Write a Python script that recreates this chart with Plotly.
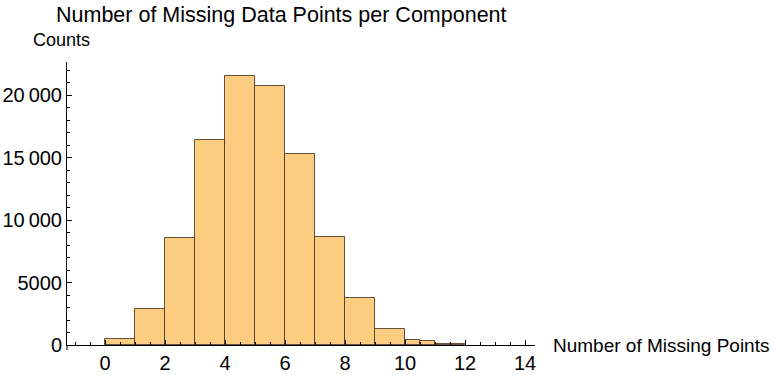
import plotly.graph_objects as go

# Histogram bins (left/right edges) and the count in each bin
bin_left = [0, 1, 2, 3, 4, 5, 6, 7, 8, 9, 10, 10.5, 11]
bin_right = [1, 2, 3, 4, 5, 6, 7, 8, 9, 10, 10.5, 11, 12]
counts = [450, 2850, 8530, 16370, 21550, 20720, 15280, 8670, 3730, 1280, 380, 360, 80]

y_tick_vals = [0, 5000, 10000, 15000, 20000]
y_tick_text = ["0", "5000", "10\u2009000", "15\u2009000", "20\u2009000"]
x_tick_vals = [0, 2, 4, 6, 8, 10, 12, 14]

centers = [(a + b) / 2 for a, b in zip(bin_left, bin_right)]
widths = [b - a for a, b in zip(bin_left, bin_right)]

W, H = 773, 375
L, R, T, B = 67, 238, 62, 30
plot_w = W - L - R
plot_h = H - T - B

FONT = "Liberation Sans, Arial, sans-serif"
TICK_SIZE = 20

fig = go.Figure(
    go.Bar(
        x=centers,
        y=counts,
        width=widths,
        marker=dict(
            color="rgb(252,205,128)",
            line=dict(color="rgba(70,55,35,0.85)", width=1),
        ),
        hoverinfo="x+y",
    )
)

fig.update_layout(
    width=W,
    height=H,
    margin=dict(l=L, r=R, t=T, b=B, autoexpand=False),
    paper_bgcolor="white",
    plot_bgcolor="white",
    bargap=0,
    showlegend=False,
    font=dict(family=FONT, size=18, color="black"),
    title=dict(
        text="Number of Missing Data Points per Component",
        font=dict(family=FONT, size=21.5, color="black"),
        xref="container",
        yref="container",
        x=56 / W,
        xanchor="left",
        y=1 - 14 / H,
        yanchor="middle",
    ),
)

fig.update_xaxes(
    range=[-38 / 30, 430 / 30],
    showgrid=False,
    zeroline=False,
    showline=True,
    linecolor="black",
    linewidth=1,
    ticks="inside",
    ticklen=5,
    tickcolor="black",
    tickvals=x_tick_vals,
    tickfont=dict(family=FONT, size=TICK_SIZE, color="black"),
    minor=dict(dtick=0.5, tick0=0, ticks="inside", ticklen=3, tickcolor="black", showgrid=False),
)

fig.update_yaxes(
    range=[0, plot_h * 80],
    showgrid=False,
    zeroline=False,
    showline=True,
    linecolor="black",
    linewidth=1,
    ticks="inside",
    ticklen=5,
    tickcolor="black",
    tickvals=y_tick_vals,
    ticktext=y_tick_text,
    tickfont=dict(family=FONT, size=TICK_SIZE, color="black"),
    minor=dict(dtick=1000, tick0=0, ticks="inside", ticklen=3, tickcolor="black", showgrid=False),
)

# y axis continues a little below the x axis
fig.add_shape(
    type="line", xref="paper", yref="paper",
    x0=0, x1=0, y0=-5 / plot_h, y1=0,
    line=dict(color="black", width=1),
)

fig.add_annotation(
    text="Counts", xref="paper", yref="paper",
    x=(31 - L) / plot_w, xanchor="left",
    y=(H - B - 40) / plot_h, yanchor="middle",
    showarrow=False, font=dict(size=18),
)
fig.add_annotation(
    text="Number of Missing Points", xref="paper", yref="paper",
    x=(551 - L) / plot_w, xanchor="left",
    y=0, yanchor="middle",
    showarrow=False, font=dict(size=19),
)

fig.write_html("out.html")
